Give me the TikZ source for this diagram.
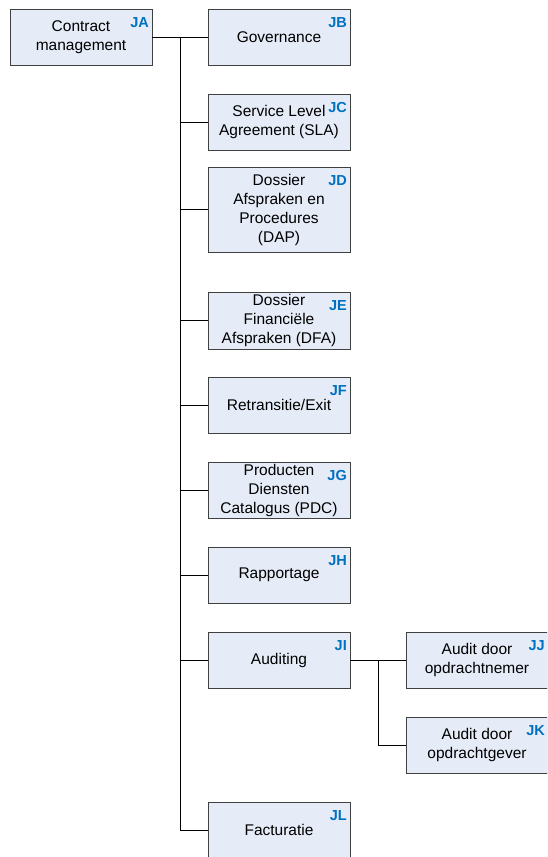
\documentclass[tikz,border=0pt]{standalone}
\usepackage{fontspec}
\setmainfont{Liberation Sans}
\usepackage{tikz}
\usetikzlibrary{positioning,calc,shadows}
\definecolor{unitfill}{RGB}{229,236,247}
\definecolor{codeblue}{RGB}{0,112,192}
\tikzset{unit/.style={draw=black!75,line width=0.8pt,fill=unitfill,align=center,
   minimum width=142pt,minimum height=56pt,inner sep=0pt,outer sep=0pt,
   drop shadow={shadow xshift=1pt,shadow yshift=-1pt,fill=black!60,opacity=1},
   font=\fontsize{15.5}{19}\selectfont},
 code/.style={font=\fontsize{14.5}{14.5}\selectfont\bfseries,text=codeblue,inner sep=0pt,
   anchor=north east,xshift=-3pt,yshift=-8pt},
 tag/.style={label={[code]north east:#1}},
 link/.style={line width=0.8pt,black}}

\begin{document}
\begin{tikzpicture}[x=1pt,y=-1pt,node distance=29pt and 56pt]
\clip (0,0) rectangle (547,857);
\node[unit,tag=JA] (ja) at (81,37) {Contract\\management};
\node[unit,tag=JB,right=of ja] (jb) {Governance};
\node[unit,tag=JC,below=of jb] (jc) {Service Level\\Agreement (SLA)};
\node[unit,tag=JD,below=17pt of jc,minimum height=85pt] (jd) {Dossier\\Afspraken en\\Procedures\\(DAP)};
\node[unit,tag=JE,below=40pt of jd,minimum height=57pt] (je) {Dossier\\Financiële\\Afspraken (DFA)};
\node[unit,tag=JF,below=28pt of je] (jf) {Retransitie/Exit};
\node[unit,tag=JG,below=of jf] (jg) {Producten\\Diensten\\Catalogus (PDC)};
\node[unit,tag=JH,below=of jg] (jh) {Rapportage};
\node[unit,tag=JI,below=of jh] (ji) {Auditing};
\node[unit,tag=JJ,right=of ji] (jj) {Audit door\\opdrachtnemer};
\node[unit,tag=JK,below=of jj] (jk) {Audit door\\opdrachtgever};
\node[unit,tag=JL,below=114pt of ji] (jl) {Facturatie};

% tree lines
\coordinate (trunk) at ($(ja.east)!0.5!(jb.west)$);
\coordinate (fork) at ($(ji.east)!0.5!(jj.west)$);
\draw[link] (ja) -- (jb);
\foreach \n in {jc,jd,je,jf,jg,jh,ji,jl}
  \draw[link] (trunk) |- (\n);
\draw[link] (ji) -- (jj);
\draw[link] (fork) |- (jk);
\end{tikzpicture}
\end{document}
